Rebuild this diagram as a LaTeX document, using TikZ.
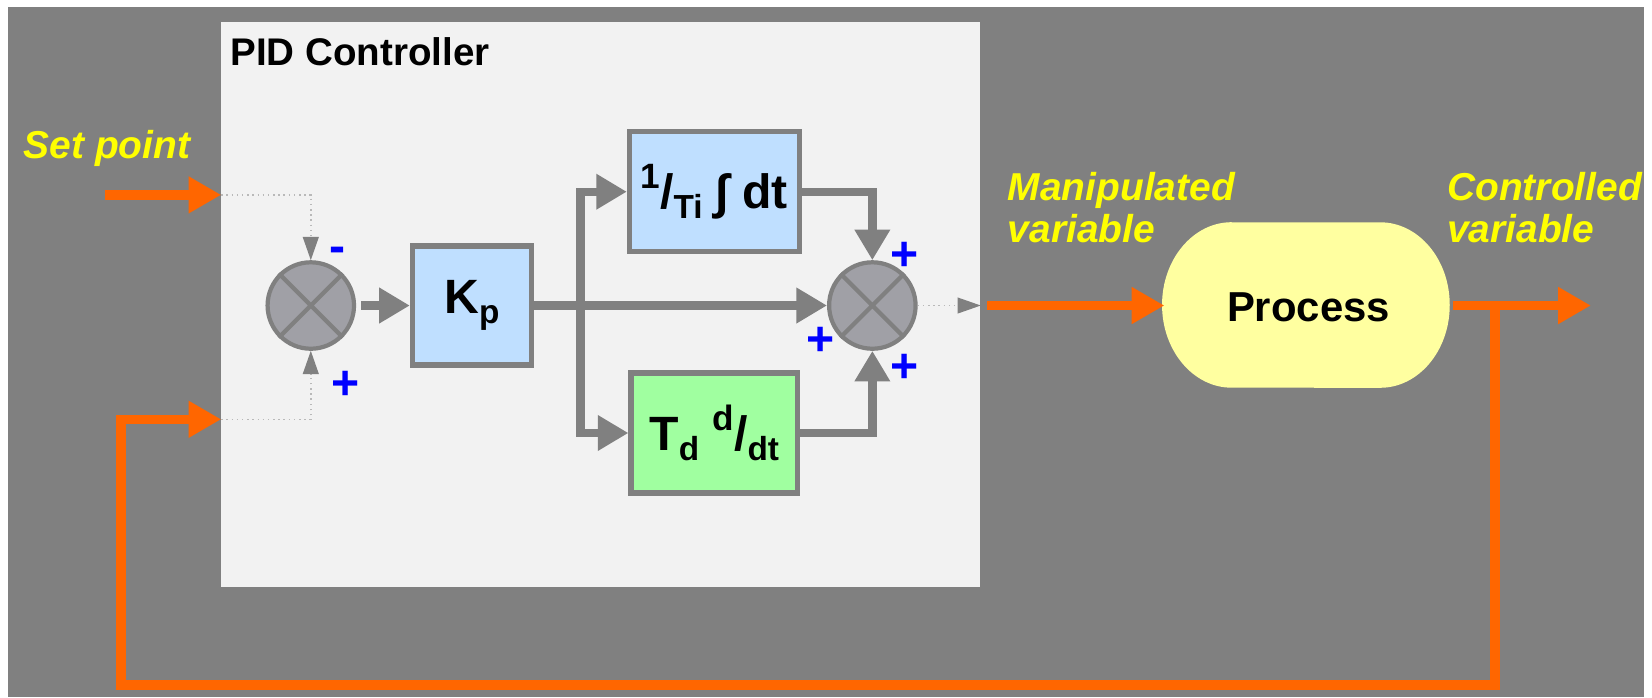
\documentclass[tikz,border=0pt]{standalone}
\usepackage{fontspec}
\setmainfont{Liberation Sans}
\usetikzlibrary{arrows.meta}
\definecolor{bggray}{HTML}{808080}
\definecolor{boxgray}{HTML}{F2F2F2}
\definecolor{flowor}{HTML}{FF6600}
\definecolor{kpblue}{HTML}{BFDFFF}
\definecolor{dgreen}{HTML}{A0FFA0}
\definecolor{procyel}{HTML}{FFFFA0}
\definecolor{sumfill}{HTML}{A0A0A6}
\definecolor{lblyel}{HTML}{FFFF00}
\newcommand\up[1]{\raisebox{.75ex}{\fontsize{9.5}{9.5}\selectfont #1}}
\newcommand\dn[1]{\raisebox{-.4ex}{\fontsize{9}{9}\selectfont #1}}
\begin{document}
\begin{tikzpicture}[x=0.01cm, y=-0.01cm,
    block/.style={rectangle, draw=bggray, line width=0.05cm, minimum width=1.61cm, minimum height=1.14cm, inner sep=0, font=\fontsize{13}{15}\selectfont\bfseries},
    summer/.style={circle, draw=bggray, fill=sumfill, line width=0.04cm, minimum size=0.82cm, inner sep=0},
    sign/.style={text=blue, inner sep=0, font=\fontsize{13}{13}\selectfont\bfseries},
    varlabel/.style={text=lblyel, align=left, inner sep=0, font=\fontsize{10.5}{11.2}\selectfont\bfseries\itshape},
    gflow/.style={draw=bggray, line width=0.08cm, -{Triangle[length=0.29cm, width=0.32cm]}},
    sigline/.style={draw=gray!55, line width=0.4pt, densely dotted, -{Triangle[length=0.22cm, width=0.15cm, color=bggray]}},
    flow/.style={draw=flowor, line width=0.09cm, -{Triangle[length=0.31cm, width=0.33cm]}}]

    \useasboundingbox (0,0) rectangle (1568,662);
    \fill[white] (0,0) rectangle (1568,662);
    \fill[bggray] (8,7) rectangle (1560,662);

    \node[fill=boxgray, minimum width=7.2cm, minimum height=5.36cm, inner sep=0] (pid) at (570,289) {};
    \node[anchor=base west, inner sep=0, font=\fontsize{10.4}{12}\selectfont\bfseries] (title) at (218,62) {PID Controller};

    \node[summer] (sum1) at (295,290) {};
    \node[block, fill=kpblue, minimum width=1.13cm, minimum height=1.13cm] (kp) at (448,290) {K\dn{p}};
    \node[block, fill=kpblue] (integ) at (678,182) {\up{1}/\dn{Ti} ∫ dt};
    \node[block, fill=dgreen, minimum width=1.58cm] (deriv) at (678,411) {T\dn{d} \up{d}/\dn{dt}};
    \node[summer] (sum2) at (828,290) {};
    \draw[bggray, line width=0.04cm] (sum1.north west) -- (sum1.south east) (sum1.north east) -- (sum1.south west);
    \draw[bggray, line width=0.04cm] (sum2.north west) -- (sum2.south east) (sum2.north east) -- (sum2.south west);

    \fill[procyel] (1169,211) -- (1310,211) arc[start angle=90, end angle=-90, x radius=0.66cm, y radius=0.785cm]
        -- (1169,368) arc[start angle=270, end angle=90, x radius=0.66cm, y radius=0.785cm] -- cycle;
    \node[minimum width=2.72cm, minimum height=1.57cm, inner sep=0, font=\fontsize{11.3}{13}\selectfont\bfseries] (proc) at (1242,291.5) {Process};

    \node[sign] (m1) at (320,242) {-};
    \node[sign] (p1) at (328,366) {+};
    \node[sign] (p2) at (859,243) {+};
    \node[sign] (p3) at (779,324) {+};
    \node[sign] (p4) at (859,350) {+};

    \node[varlabel, anchor=base west] (setlbl) at (22,150) {Set point};
    \node[varlabel, anchor=north west] (mvlbl) at (956,163) {Manipulated\\variable};
    \node[varlabel, anchor=north west] (cvlbl) at (1373,163) {Controlled\\variable};

    \coordinate (spstart) at (100,185);
    \coordinate (spin) at (210,185);
    \coordinate (fbin) at (210,398);
    \coordinate (fbcorner) at (115,650);
    \coordinate (tap) at (1419,290);
    \coordinate (cvout) at (1510,290);
    \coordinate (br) at (551,290);
    \coordinate (mv) at (pid.east |- sum2);

    \draw[flow] (spstart) -- (spin);
    \draw[sigline] (spin) -| (sum1.north);
    \draw[sigline] (fbin) -| (sum1.south);
    \draw[gflow, shorten <=0.05cm] (sum1) -- (kp);
    \draw[gflow] (kp) -- (sum2);
    \draw[gflow] (br) |- (integ);
    \draw[gflow] (br) |- (deriv);
    \draw[gflow] (integ) -| (sum2);
    \draw[gflow] (deriv) -| (sum2);
    \draw[sigline] (sum2) -- (mv);
    \draw[flow, shorten <=0.06cm] (mv) -- (proc.west |- mv);
    \draw[flow] (proc.east |- cvout) -- (cvout);
    \draw[flow] (tap) |- (fbcorner) |- (fbin);
\end{tikzpicture}
\end{document}
